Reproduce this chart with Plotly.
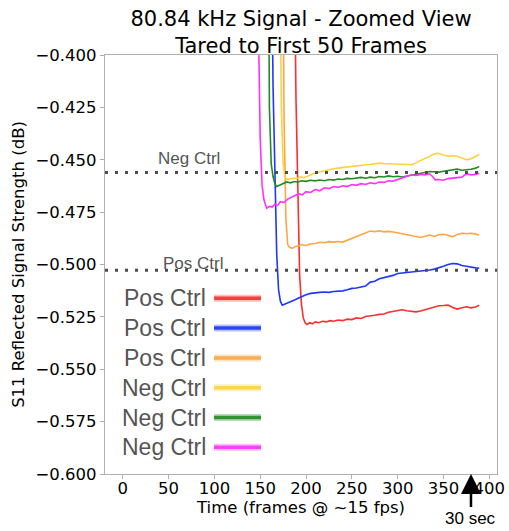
import plotly.graph_objects as go

# ---- data: S11 reflected signal (dB), tared to first 50 frames ----
labels = ["Pos Ctrl", "Pos Ctrl", "Pos Ctrl", "Neg Ctrl", "Neg Ctrl", "Neg Ctrl"]
colors = ["rgb(255,45,45)", "rgb(30,55,255)", "rgb(255,165,70)",
          "rgb(255,210,60)", "rgb(34,140,34)", "rgb(255,50,255)"]

pos1_frames = [0, 70, 140, 183, 187, 189, 191, 193, 195, 197, 199, 201, 204, 207, 210, 214, 218, 222,
               226, 230, 235, 240, 245, 250, 255, 260, 265, 270, 275, 280, 285, 290, 295, 300, 305,
               310, 315, 320, 325, 330, 335, 340, 345, 350, 355, 360, 365, 370, 375, 380, 385, 389]
pos1_values = [0.0, 0.001, -0.001, -0.02, -0.34, -0.42, -0.47, -0.505, -0.519, -0.5255, -0.5278,
               -0.5286, -0.5278, -0.5283, -0.5274, -0.5278, -0.5271, -0.5274, -0.5268, -0.5271,
               -0.5265, -0.5268, -0.5261, -0.5263, -0.5255, -0.5258, -0.5248, -0.5246, -0.5242,
               -0.5238, -0.5236, -0.5228, -0.5224, -0.5218, -0.5216, -0.5221, -0.5223, -0.5226,
               -0.5222, -0.5215, -0.5210, -0.5204, -0.5197, -0.5196, -0.5194, -0.5205, -0.5213,
               -0.5206, -0.5202, -0.5207, -0.5203, -0.5194]

pos2_frames = [0, 70, 140, 158, 162, 164, 166, 168, 170, 172, 174, 177, 180, 184, 188, 192, 196, 200,
               205, 210, 215, 220, 225, 230, 235, 240, 245, 250, 255, 260, 265, 270, 275, 280, 285,
               290, 295, 300, 305, 310, 315, 320, 325, 330, 335, 340, 345, 350, 355, 360, 365, 370,
               375, 380, 385, 389]
pos2_values = [0.0, 0.001, -0.001, -0.02, -0.33, -0.415, -0.46, -0.495, -0.512, -0.5175, -0.5194,
               -0.5189, -0.5184, -0.5178, -0.5168, -0.5160, -0.5152, -0.5144, -0.5138, -0.5134,
               -0.5133, -0.5131, -0.5133, -0.5129, -0.5128, -0.5126, -0.5121, -0.5114, -0.5112,
               -0.5107, -0.5103, -0.5084, -0.5080, -0.5068, -0.5063, -0.5058, -0.5052, -0.5043,
               -0.5041, -0.5038, -0.5036, -0.5033, -0.5031, -0.5028, -0.5026, -0.5022, -0.5016,
               -0.5008, -0.5000, -0.4995, -0.4997, -0.5005, -0.5008, -0.5013, -0.5016, -0.5018]

pos3_frames = [0, 70, 140, 170, 174, 176, 178, 180, 182, 185, 188, 192, 196, 200, 205, 210, 215, 220,
               225, 230, 235, 240, 245, 250, 255, 260, 265, 270, 275, 280, 285, 290, 295, 300, 305,
               310, 315, 320, 325, 330, 335, 340, 345, 350, 355, 360, 365, 370, 375, 380, 385, 389]
pos3_values = [0.0, 0.001, -0.001, -0.02, -0.33, -0.43, -0.478, -0.4905, -0.4918, -0.4923, -0.4915,
               -0.4911, -0.4906, -0.4909, -0.4902, -0.4900, -0.4894, -0.4896, -0.4891, -0.4893,
               -0.4890, -0.4893, -0.4884, -0.4875, -0.4866, -0.4856, -0.4848, -0.4840, -0.4843,
               -0.4839, -0.4844, -0.4842, -0.4845, -0.4849, -0.4851, -0.4855, -0.4860, -0.4866,
               -0.4871, -0.4865, -0.4859, -0.4866, -0.4858, -0.4856, -0.4862, -0.4867, -0.4857,
               -0.4851, -0.4853, -0.4851, -0.4855, -0.4859]

neg1_frames = [0, 70, 140, 168, 171, 173, 175, 177, 179, 182, 186, 190, 194, 198, 202, 206, 210, 215,
               220, 225, 230, 235, 240, 245, 250, 255, 260, 265, 270, 275, 280, 285, 290, 295, 300,
               305, 310, 315, 320, 325, 330, 335, 340, 344, 348, 352, 356, 360, 365, 370, 375, 379,
               383, 386, 389]
neg1_values = [0.0, 0.001, -0.001, -0.02, -0.33, -0.425, -0.452, -0.4585, -0.4595, -0.4592, -0.4588,
               -0.4590, -0.4582, -0.4586, -0.4576, -0.4570, -0.4563, -0.4558, -0.4550, -0.4547,
               -0.4543, -0.4540, -0.4537, -0.4535, -0.4532, -0.4530, -0.4526, -0.4524, -0.4523,
               -0.4519, -0.4516, -0.4518, -0.4519, -0.4517, -0.4519, -0.4521, -0.4522, -0.4524,
               -0.4515, -0.4503, -0.4493, -0.4484, -0.4472, -0.4469, -0.4476, -0.4480, -0.4484,
               -0.4481, -0.4483, -0.4490, -0.4500, -0.4497, -0.4490, -0.4482, -0.4473]

neg2_frames = [0, 70, 140, 155, 158, 160, 162, 164, 166, 168, 171, 175, 179, 183, 187, 191, 195, 200,
               205, 210, 215, 220, 225, 230, 235, 240, 245, 250, 255, 260, 265, 270, 275, 280, 285,
               290, 295, 300, 305, 310, 315, 320, 325, 330, 335, 340, 345, 350, 355, 360, 365, 370,
               375, 380, 385, 389]
neg2_values = [0.0, 0.001, -0.001, -0.02, -0.30, -0.425, -0.452, -0.458, -0.4615, -0.4628, -0.4622,
               -0.4615, -0.4606, -0.4610, -0.4604, -0.4607, -0.4600, -0.4603, -0.4598, -0.4601,
               -0.4597, -0.4600, -0.4594, -0.4597, -0.4592, -0.4594, -0.4589, -0.4591, -0.4587,
               -0.4584, -0.4588, -0.4583, -0.4586, -0.4580, -0.4582, -0.4577, -0.4581, -0.4579,
               -0.4582, -0.4578, -0.4572, -0.4570, -0.4564, -0.4560, -0.4556, -0.4557, -0.4559,
               -0.4555, -0.4551, -0.4549, -0.4545, -0.4550, -0.4548, -0.4545, -0.4540, -0.4532]

neg3_frames = [0, 70, 140, 145, 148, 150, 152, 154, 157, 160, 163, 166, 169, 172, 176, 180, 184, 188,
               192, 196, 200, 205, 210, 215, 220, 225, 230, 235, 240, 245, 250, 255, 260, 265, 270,
               275, 280, 285, 290, 295, 300, 305, 310, 315, 320, 325, 330, 335, 338, 341, 345, 350,
               355, 360, 365, 370, 375, 380, 385, 389]
neg3_values = [0.0, 0.001, -0.002, -0.15, -0.385, -0.440, -0.462, -0.469, -0.4731, -0.4722, -0.4726,
               -0.4712, -0.4718, -0.4700, -0.4704, -0.4688, -0.4680, -0.4672, -0.4662, -0.4668,
               -0.4652, -0.4656, -0.4642, -0.4648, -0.4634, -0.4638, -0.4628, -0.4632, -0.4624,
               -0.4628, -0.4618, -0.4622, -0.4614, -0.4618, -0.4610, -0.4614, -0.4606, -0.4608,
               -0.4600, -0.4602, -0.4594, -0.4588, -0.4580, -0.4572, -0.4575, -0.4570, -0.4572,
               -0.4567, -0.4580, -0.4596, -0.4594, -0.4598, -0.4590, -0.4588, -0.4584, -0.4583,
               -0.4567, -0.4572, -0.4570, -0.4564]

series_frames = [pos1_frames, pos2_frames, pos3_frames, neg1_frames, neg2_frames, neg3_frames]
series_values = [pos1_values, pos2_values, pos3_values, neg1_values, neg2_values, neg3_values]

# reference levels for the controls
ref_names = ["Neg Ctrl", "Pos Ctrl"]
ref_levels = [-0.4561, -0.5028]
ref_label_x = [72.5, 77.0]
ref_label_y = [-0.4496, -0.4993]

x_ticks = [0, 50, 100, 150, 200, 250, 300, 350, 400]
y_ticks = [-0.600, -0.575, -0.550, -0.525, -0.500, -0.475, -0.450, -0.425, -0.400]

FONT = "DejaVu Sans"
SANS = "Liberation Sans"
GREY = "#555555"
SPINE = "#b0b0b0"

fig = go.Figure()

for fr, vals, name, col in zip(series_frames, series_values, labels, colors):
    fig.add_trace(go.Scatter(x=fr, y=vals, mode="lines", name=name,
                             line=dict(color=col, width=1.6), showlegend=False))

# dotted control reference lines with their labels
for name, lvl, lx, ly in zip(ref_names, ref_levels, ref_label_x, ref_label_y):
    fig.add_shape(type="line", xref="paper", x0=0, x1=1, yref="y", y0=lvl, y1=lvl,
                  line=dict(color="#4d4d4d", width=3, dash="3px,7px"), layer="above")
    fig.add_annotation(x=lx, y=ly, xref="x", yref="y", text=name, showarrow=False,
                       font=dict(family=SANS, size=17, color=GREY),
                       xanchor="center", yanchor="middle")

# legend drawn inside the plot: label on the left, line sample on the right
leg_top_px = 298.3
leg_step_px = 29.8
plot_top, plot_h = 55, 419
plot_left, plot_w = 105, 392
for i, (name, col) in enumerate(zip(labels, colors)):
    ypx = leg_top_px + i * leg_step_px
    yp = 1 - (ypx - plot_top) / plot_h
    fig.add_annotation(x=(207.5 - plot_left) / plot_w, y=yp, xref="paper", yref="paper",
                       text=name, showarrow=False, xanchor="right", yanchor="middle",
                       font=dict(family=SANS, size=23, color=GREY))
    x0 = (214 - plot_left) / plot_w
    x1 = (261 - plot_left) / plot_w
    fig.add_shape(type="line", xref="paper", yref="paper", x0=x0, x1=x1, y0=yp, y1=yp,
                  line=dict(color=col, width=7), opacity=0.3)
    fig.add_shape(type="line", xref="paper", yref="paper", x0=x0, x1=x1, y0=yp, y1=yp,
                  line=dict(color=col, width=3.5), opacity=0.9)

# 30 second marker below the axis
fig.add_annotation(x=380, y=0, xref="x", yref="paper", text="30 sec",
                   showarrow=True, ax=0, ay=44, arrowhead=2, arrowsize=1.6,
                   arrowwidth=2.5, arrowcolor="black", standoff=0,
                   font=dict(family=SANS, size=17, color="black"))

fig.update_layout(
    width=509, height=531, autosize=False,
    margin=dict(l=105, r=12, t=55, b=57),
    paper_bgcolor="white", plot_bgcolor="white",
    font=dict(family=FONT, color="black"),
    title=dict(text="80.84 kHz Signal - Zoomed View<br>Tared to First 50 Frames",
               x=(plot_left + plot_w / 2) / 509, xanchor="center",
               y=1 - 26 / 531, yanchor="bottom", yref="container", pad=dict(b=0),
               font=dict(family=FONT, size=21, color="black")),
    xaxis=dict(range=[-19.4, 408.4], tickvals=x_ticks, ticks="outside", ticklen=4,
               tickcolor=SPINE, showline=True, linecolor=SPINE, linewidth=1.2, mirror=True,
               showgrid=False, zeroline=False, automargin=False, ticklabelstandoff=-5,
               tickfont=dict(family=FONT, size=16.5, color="black"),
               title=dict(text="Time (frames @ ~15 fps)", standoff=0,
                          font=dict(family=FONT, size=16.5, color="black"))),
    yaxis=dict(range=[-0.6, -0.4], tickvals=y_ticks, tickformat=".3f", ticks="outside",
               ticklen=4, tickcolor=SPINE, showline=True, linecolor=SPINE, linewidth=1.2,
               mirror=True, showgrid=False, zeroline=False, automargin=False,
               tickfont=dict(family=FONT, size=16.5, color="black"),
               title=dict(text="S11 Reflected Signal Strength (dB)", standoff=6,
                          font=dict(family=FONT, size=16.5, color="black"))),
)

fig.write_html("out.html")
